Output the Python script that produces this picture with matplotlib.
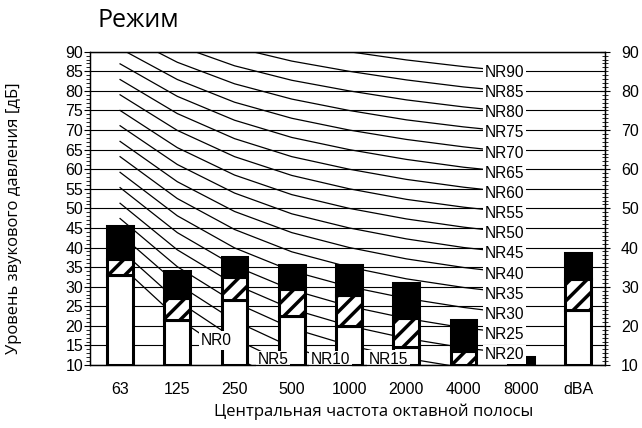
import matplotlib
matplotlib.use("Agg")
import matplotlib.pyplot as plt
from matplotlib.ticker import MultipleLocator

plt.rcParams["hatch.linewidth"] = 2.5

# octave bands
bands = ["63", "125", "250", "500", "1000", "2000", "4000", "8000", "dBA"]

# stacked levels per band (top of white part, top of hatched part, top of black part)
white_top = [33, 21.5, 26.5, 22.5, 20, 14.5, 10, 10, 24]
hatch_top = [37, 27, 32.5, 29.5, 28, 22, 13.5, 10, 32]
black_top = [45.5, 34, 37.5, 35.5, 35.5, 31, 21.5, 12, 38.7]

# NR curves, 63 Hz ... 8000 Hz
nr_names = ["NR0", "NR5", "NR10", "NR15", "NR20", "NR25", "NR30", "NR35", "NR40",
            "NR45", "NR50", "NR55", "NR60", "NR65", "NR70", "NR75", "NR80",
            "NR85", "NR90"]
nr_levels = [
    [35.5, 22.0, 12.0, 4.8, 0, -3.5, -6.1, -8.0],
    [39.5, 26.4, 16.7, 9.7, 5, 1.6, -1.0, -2.9],
    [43.4, 30.7, 21.3, 14.5, 10, 6.7, 4.2, 2.3],
    [47.4, 35.1, 26.0, 19.4, 15, 11.7, 9.3, 7.5],
    [51.3, 39.4, 30.6, 24.3, 20, 16.8, 14.4, 12.6],
    [55.3, 43.8, 35.3, 29.2, 25, 21.9, 19.5, 17.8],
    [59.2, 48.1, 39.9, 34.0, 30, 27.0, 24.7, 22.9],
    [63.2, 52.5, 44.6, 38.9, 35, 32.0, 29.8, 28.1],
    [67.1, 56.8, 49.2, 43.8, 40, 37.1, 34.9, 33.2],
    [71.1, 61.2, 53.9, 48.6, 45, 42.2, 40.0, 38.4],
    [75.0, 65.5, 58.5, 53.5, 50, 47.3, 45.2, 43.5],
    [79.0, 69.9, 63.2, 58.4, 55, 52.3, 50.3, 48.7],
    [82.9, 74.2, 67.8, 63.2, 60, 57.4, 55.4, 53.8],
    [86.9, 78.6, 72.5, 68.1, 65, 62.5, 60.5, 59.0],
    [90.8, 82.9, 77.1, 73.0, 70, 67.6, 65.7, 64.1],
    [94.8, 87.3, 81.8, 77.9, 75, 72.6, 70.8, 69.3],
    [98.7, 91.6, 86.4, 82.7, 80, 77.7, 75.9, 74.4],
    [102.7, 96.0, 91.1, 87.6, 85, 82.8, 81.0, 79.6],
    [106.6, 100.3, 95.7, 92.5, 90, 87.9, 86.2, 84.7],
]

# where the low curves get their label (x position, level)
low_label_pos = {"NR0": (1.68, 16.2), "NR5": (2.67, 11.3),
                 "NR10": (3.67, 11.3), "NR15": (4.69, 11.5)}
right_label_x = 6.72

num_font = ["Liberation Sans", "DejaVu Sans"]
txt_font = ["Open Sans", "DejaVu Sans"]

fig = plt.figure(figsize=(6.42, 4.28), dpi=100)
ax = fig.add_axes([0.1402, 0.1472, 0.8022, 0.732])

x = list(range(len(bands)))
ax.set_xlim(-0.525, 8.47)
ax.set_ylim(10, 90)

# horizontal grid every 5 dB
ax.yaxis.set_major_locator(MultipleLocator(5))
ax.yaxis.set_minor_locator(MultipleLocator(1))
ax.grid(axis="y", color="black", linewidth=0.8, zorder=0)
ax.set_axisbelow(True)

# NR curves
for name, lev in zip(nr_names, nr_levels):
    ax.plot(x[:8], lev, color="black", linewidth=0.9, zorder=1)
    if name in low_label_pos:
        lx, ly = low_label_pos[name]
    else:
        lx, ly = right_label_x, lev[-1]
    ax.text(lx, ly, name, ha="center", va="center", fontsize=11.2,
            family=num_font, zorder=5,
            bbox=dict(facecolor="white", edgecolor="none", pad=1.3))

# stacked bars
w = 0.45
ew = 2.2
white_h = [t - 10 for t in white_top]
hatch_h = [h - t for h, t in zip(hatch_top, white_top)]
black_h = [b - h for b, h in zip(black_top, hatch_top)]
ax.bar(x, white_h, bottom=10, width=w, color="white", edgecolor="black",
       linewidth=ew, zorder=3)
ax.bar(x, hatch_h, bottom=white_top, width=w, color="white", edgecolor="black",
       hatch="//", linewidth=ew, zorder=3)
ax.bar(x, black_h, bottom=hatch_top, width=w, color="black", edgecolor="black",
       linewidth=ew, zorder=3)

for s in ax.spines.values():
    s.set_color("black")
    s.set_linewidth(0.9)

ax.set_xticks(x)
ax.set_xticklabels(bands, fontsize=11.5, family=num_font)
ax.tick_params(axis="x", length=0, pad=12)
ax.tick_params(axis="y", which="major", direction="out", length=4, width=0.8,
               labelsize=11.5, pad=1)
ax.tick_params(axis="y", which="minor", direction="out", length=3, width=0.6)
for lab in ax.get_yticklabels():
    lab.set_family(num_font)

ax2 = ax.twinx()
ax2.set_ylim(10, 90)
ax2.yaxis.set_major_locator(MultipleLocator(10))
ax2.yaxis.set_minor_locator(MultipleLocator(1))
ax2.tick_params(axis="y", which="major", direction="inout", length=7, width=0.8,
                labelsize=11.5, pad=8)
ax2.tick_params(axis="y", which="minor", direction="inout", length=5, width=0.6)
for lab in ax2.get_yticklabels():
    lab.set_family(num_font)
for s in ax2.spines.values():
    s.set_linewidth(0.9)

fig.text(97 / 642, 1 - 27 / 428, "Режим", fontsize=18, family=txt_font,
         va="baseline", ha="left")
fig.text(374 / 642, 1 - 412 / 428, "Центральная частота октавной полосы",
         fontsize=12, family=txt_font, ha="center", va="center")
fig.text(14 / 642, 210 / 428, "Уровень звукового давления [дБ]",
         fontsize=12, family=txt_font, ha="center", va="center", rotation=90)

fig.savefig("out.png", dpi=100)
